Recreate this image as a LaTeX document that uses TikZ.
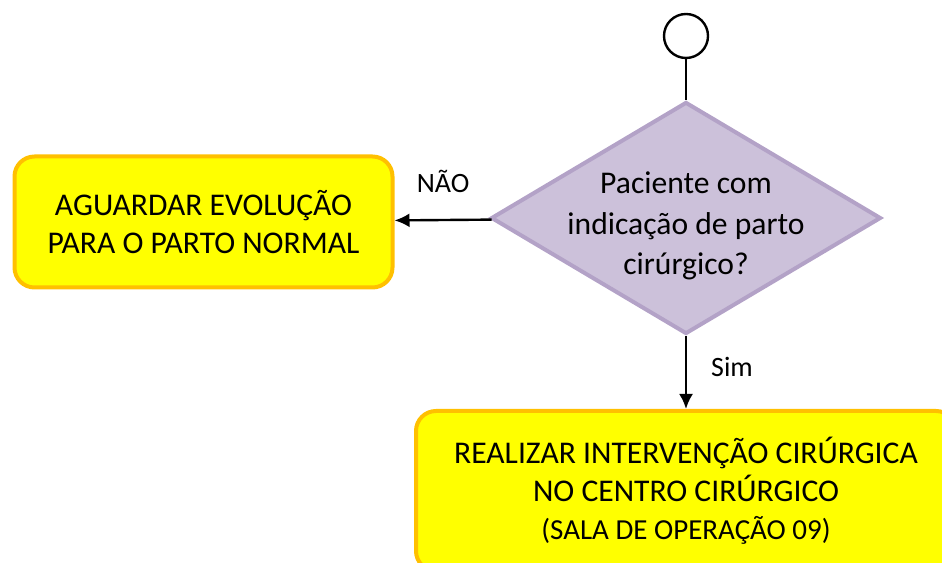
\documentclass[tikz,border=0pt]{standalone}
\usepackage{fontspec}
\setmainfont{Carlito}
\usetikzlibrary{arrows.meta, shapes.geometric, positioning, trees}

\definecolor{amarelo}{HTML}{FFFF00}
\definecolor{ouro}{HTML}{FFC000}
\definecolor{lilas}{HTML}{CCC1DA}
\definecolor{lilasborda}{HTML}{B3A2C7}

\begin{document}
\begin{tikzpicture}
[every node/.style={align=center, font=\fontsize{15.8}{19}\selectfont},
  inicio/.style={circle, draw, line width=1.2pt, fill=white, minimum size=22pt, inner sep=0},
  decisao/.style={diamond, draw=lilasborda, line width=2pt, fill=lilas, aspect=1.68,
    minimum width=195pt, minimum height=116pt, inner sep=-6pt,
    font=\fontsize{15.8}{20.3}\selectfont},
  acao/.style={draw=ouro, line width=2pt, fill=amarelo, rounded corners=10pt},
  rotulo/.style={font=\fontsize{14}{17}\selectfont, inner sep=0},
  edge from parent/.style={draw, line width=1.2pt},
  seta/.style={->},
  >={Latex[length=7.5pt,width=7pt]},
  sibling distance=0pt]

\useasboundingbox (0,0) rectangle (471pt,281pt);

\node[inicio] (inicio) at (343pt,263pt) {}
  child[level distance=91pt] {
    node[decisao] (decisao) {\rule{0pt}{19pt}Paciente com\\indicação de parto\\cirúrgico?}
    child[grow=left, level distance=241.25pt, yshift=-2pt] {
      node[acao, minimum width=189pt, minimum height=65.5pt] (aguardar) {AGUARDAR EVOLUÇÃO\\PARA O PARTO NORMAL}
      edge from parent[seta] node[rotulo, above=13pt] {NÃO}
    }
    child[grow=down, level distance=136.5pt] {
      node[acao, minimum width=270pt, minimum height=80pt] (realizar) {REALIZAR INTERVENÇÃO CIRÚRGICA\\NO CENTRO CIRÚRGICO\\{\fontsize{14.5}{18}\selectfont (SALA DE OPERAÇÃO 09)}}
      edge from parent[seta] node[rotulo, right=12pt, pos=0.42] {Sim}
    }
  };

\end{tikzpicture}
\end{document}
